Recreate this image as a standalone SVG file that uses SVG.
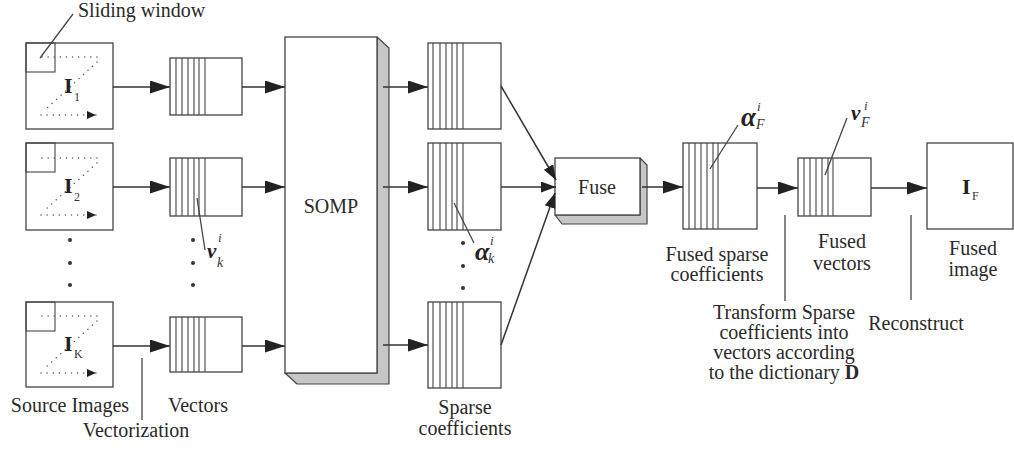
<svg xmlns="http://www.w3.org/2000/svg" width="1014" height="450" viewBox="0 0 1014 450">
<defs>
<style>
.bx{fill:#fff;stroke:#444;stroke-width:1.3}
.st{fill:none;stroke:#444;stroke-width:1.1}
.ln{fill:none;stroke:#444;stroke-width:1.3}
.ar{fill:none;stroke:#333;stroke-width:1.5}
.dt{fill:none;stroke:#555;stroke-width:1.4;stroke-dasharray:0.1 6;stroke-linecap:round}
.sh{fill:#c6c6c6;stroke:#444;stroke-width:1.2;stroke-linejoin:round}
.t{font-family:'Liberation Serif','DejaVu Serif',serif;font-size:20px;fill:#2a2a2a}
.m{text-anchor:middle}
.bI{font-family:'Liberation Serif','DejaVu Serif',serif;font-weight:bold;font-size:22px;fill:#222}
.sub{font-family:'Liberation Serif','DejaVu Serif',serif;font-size:12px;fill:#333}
.bi{font-family:'Liberation Serif','DejaVu Serif',serif;font-weight:bold;font-style:italic;fill:#222}
.it{font-family:'Liberation Serif','DejaVu Serif',serif;font-style:italic;fill:#333}
.dot{fill:#333}
</style>
<marker id="ah" viewBox="0 0 20 13" refX="20" refY="6.5" markerWidth="20" markerHeight="13" markerUnits="userSpaceOnUse" orient="auto"><path d="M0,0 L20,6.5 L0,13 z" fill="#222"/></marker>
<marker id="ahs" viewBox="0 0 15 11" refX="15" refY="5.5" markerWidth="15" markerHeight="11" markerUnits="userSpaceOnUse" orient="auto"><path d="M0,0 L15,5.5 L0,11 z" fill="#222"/></marker>
<marker id="ad" viewBox="0 0 9 8" refX="9" refY="4" markerWidth="9" markerHeight="8" markerUnits="userSpaceOnUse" orient="auto"><path d="M0,0 L9,4 L0,8 z" fill="#222"/></marker>
</defs>

<g id="img1">
<rect class="bx" x="26" y="43" width="87" height="86"/>
<rect class="st" x="26" y="43" width="29" height="29"/>
<path class="dt" d="M42,57 L100,57"/>
<path class="dt" d="M97,62 L45,110"/>
<path class="dt" d="M41,115 L96,115" marker-end="url(#ad)"/>
<text class="bI" x="64" y="93">I</text><text class="sub" x="74" y="101">1</text>
</g>
<g id="img2">
<rect class="bx" x="26" y="143" width="87" height="87"/>
<rect class="st" x="26" y="143" width="29" height="29"/>
<path class="dt" d="M42,158 L100,158"/>
<path class="dt" d="M97,163 L45,210"/>
<path class="dt" d="M41,215 L96,215" marker-end="url(#ad)"/>
<text class="bI" x="64" y="193">I</text><text class="sub" x="74" y="201">2</text>
</g>
<g id="imgK">
<rect class="bx" x="26" y="302" width="87" height="85"/>
<rect class="st" x="26" y="302" width="29" height="29"/>
<path class="dt" d="M42,316 L100,316"/>
<path class="dt" d="M97,321 L45,368"/>
<path class="dt" d="M41,373 L96,373" marker-end="url(#ad)"/>
<text class="bI" x="64" y="351">I</text><text class="sub" x="74" y="358" font-size="11">K</text>
</g>
<g id="src-dots"><circle class="dot" cx="70" cy="240" r="2"/><circle class="dot" cx="70" cy="263" r="2"/><circle class="dot" cx="70" cy="285" r="2"/></g>

<g id="vec1"><rect class="bx" x="170" y="58" width="72" height="57"/><path class="st" d="M176,58V115M182,58V115M188,58V115M194,58V115M199,58V115M205,58V115"/></g>
<g id="vec2"><rect class="bx" x="170" y="158" width="72" height="58"/><path class="st" d="M176,158V216M182,158V216M188,158V216M194,158V216M199,158V216M205,158V216"/></g>
<g id="vecK"><rect class="bx" x="170" y="317" width="72" height="55"/><path class="st" d="M176,317V372M182,317V372M188,317V372M194,317V372M199,317V372M205,317V372"/></g>
<g id="vec-dots"><circle class="dot" cx="193" cy="240" r="2"/><circle class="dot" cx="193" cy="263" r="2"/><circle class="dot" cx="193" cy="285" r="2"/></g>

<g id="somp">
<polygon class="sh" points="377,37 389,48 389,384 297,384 285,373 377,373"/>
<rect class="bx" x="285" y="37" width="92" height="336"/>
<text class="t m" x="331" y="213" font-size="23">SOMP</text>
</g>

<g id="sp1"><rect class="bx" x="428" y="43" width="73" height="86"/><path class="st" d="M433,43V129M440,43V129M446,43V129M452,43V129M457,43V129M463,43V129"/></g>
<g id="sp2"><rect class="bx" x="428" y="143" width="73" height="87"/><path class="st" d="M433,143V230M440,143V230M446,143V230M452,143V230M457,143V230M463,143V230"/></g>
<g id="spK"><rect class="bx" x="428" y="302" width="73" height="86"/><path class="st" d="M433,302V388M440,302V388M446,302V388M452,302V388M457,302V388M463,302V388"/></g>
<g id="sp-dots"><circle class="dot" cx="463" cy="243" r="2"/><circle class="dot" cx="463" cy="266" r="2"/><circle class="dot" cx="463" cy="288" r="2"/></g>

<g id="fuse">
<polygon class="sh" points="640,158 647,165 647,224 562,224 555,215 640,215"/>
<rect class="bx" x="555" y="158" width="85" height="57"/>
<text class="t m" x="597" y="194">Fuse</text>
</g>

<g id="fsp"><rect class="bx" x="683" y="143" width="74" height="86"/><path class="st" d="M689,143V229M695,143V229M701,143V229M707,143V229M713,143V229M718,143V229"/></g>
<g id="fvec"><rect class="bx" x="798" y="158" width="73" height="58"/><path class="st" d="M804,158V216M810,158V216M816,158V216M822,158V216M828,158V216M833,158V216"/></g>
<g id="fimg"><rect class="bx" x="927" y="143" width="86" height="86"/><text class="bI" x="962" y="194">I</text><text class="sub" x="972" y="200" font-size="11">F</text></g>

<g id="connectors">
<path class="ar" d="M113,87H170" marker-end="url(#ah)"/>
<path class="ar" d="M113,187H170" marker-end="url(#ah)"/>
<path class="ar" d="M113,346H170" marker-end="url(#ah)"/>
<path class="ar" d="M242,87H285" marker-end="url(#ah)"/>
<path class="ar" d="M242,187H285" marker-end="url(#ah)"/>
<path class="ar" d="M242,346H285" marker-end="url(#ah)"/>
<path class="ar" d="M383,87H428" marker-end="url(#ah)"/>
<path class="ar" d="M383,187H428" marker-end="url(#ah)"/>
<path class="ar" d="M383,345H428" marker-end="url(#ah)"/>
<path class="ar" d="M501,86L556,180" marker-end="url(#ahs)"/>
<path class="ar" d="M501,187H556" marker-end="url(#ahs)"/>
<path class="ar" d="M501,345L555,193" marker-end="url(#ahs)"/>
<path class="ar" d="M642,187H683" marker-end="url(#ah)"/>
<path class="ar" d="M757,188H798" marker-end="url(#ah)"/>
<path class="ar" d="M871,188H927" marker-end="url(#ah)"/>
</g>

<g id="annotations">
<path class="ln" d="M40,58L73,14"/>
<text class="t" x="78" y="17">Sliding window</text>
<path class="ln" d="M197,198L205,250"/>
<text class="bi" x="207" y="258" font-size="21">v</text><text class="it" x="218" y="242" font-size="13">i</text><text class="it" x="217" y="267" font-size="14">k</text>
<path class="ln" d="M454,203L474,243"/>
<text class="bi" x="475" y="260" font-size="26">α</text><text class="it" x="490" y="245" font-size="13">i</text><text class="it" x="488" y="263" font-size="14">k</text>
<path class="ln" d="M710,169L738,125"/>
<text class="bi" x="741" y="126" font-size="27">α</text><text class="it" x="757" y="111" font-size="13">i</text><text class="it" x="756" y="129" font-size="14">F</text>
<path class="ln" d="M825,175L847,118"/>
<text class="bi" x="851" y="120" font-size="21">v</text><text class="it" x="864" y="110" font-size="13">i</text><text class="it" x="861" y="127" font-size="14">F</text>
<path class="ln" d="M142,358V420"/>
<path class="ln" d="M785,215V301"/>
<path class="ln" d="M911,215V300"/>
<text class="t m" x="70" y="412">Source Images</text>
<text class="t m" x="198" y="412">Vectors</text>
<text class="t m" x="136" y="437">Vectorization</text>
<text class="t m" x="465" y="414">Sparse</text>
<text class="t m" x="465" y="435">coefficients</text>
<text class="t m" x="717" y="261">Fused sparse</text>
<text class="t m" x="717" y="281">coefficients</text>
<text class="t m" x="842" y="248">Fused</text>
<text class="t m" x="842" y="270">vectors</text>
<text class="t m" x="973" y="255">Fused</text>
<text class="t m" x="973" y="276">image</text>
<text class="t m" x="784" y="319">Transform Sparse</text>
<text class="t m" x="784" y="339">coefficients into</text>
<text class="t m" x="784" y="359">vectors according</text>
<text class="t m" x="784" y="379">to the dictionary <tspan font-weight="bold">D</tspan></text>
<text class="t m" x="916" y="330">Reconstruct</text>
</g>
</svg>
